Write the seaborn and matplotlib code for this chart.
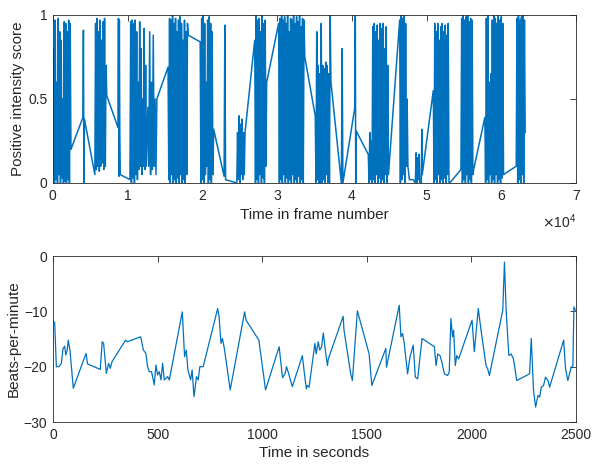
import numpy as np
import pandas as pd
import matplotlib
matplotlib.use("Agg")
import matplotlib.pyplot as plt
import seaborn as sns

# ---------------- data: top panel (positive intensity score per frame) ----------------
# each segment: first frame, frame step, and the scores
seg_start = [0, 4000, 5600, 8700, 10300, 12700, 15400, 19700, 22900, 24600, 27000,
             30200, 35100, 38600, 40400, 42200, 46400, 47700, 48500, 49300, 50900,
             54600, 57800, 62000]
seg_step = [100, 70, 100, 60, 100, 120, 100, 100, 100, 100, 100,
            100, 100, 100, 60, 100, 100, 500, 100, 60, 100,
            100, 100, 100]
seg_a = [0.05, 0.8, 0.0, 0.97, 0.02, 0.6, 0.0, 0.98, 0.05, 0.9, 0.0, 0.85, 0.03, 0.5,
         0.0, 0.96, 0.01, 0.95, 0.0, 0.9, 0.02, 0.97, 0.0, 0.95, 0.2]
seg_s1 = [0.39, 0.91, 0.0, 0.38]
seg_b = [0.05, 0.95, 0.08, 0.98, 0.1, 0.9, 0.07, 0.97, 0.1, 0.85, 0.12, 0.96, 0.08,
         0.98, 0.1, 0.7, 0.52]
seg_s2 = [0.33, 0.98, 0.04, 0.97, 0.3, 0.05]
seg_c = [0.02, 0.96, 0.0, 0.97, 0.03, 0.95, 0.0, 0.97, 0.05, 0.9, 0.02, 0.6, 0.08,
         0.96, 0.1, 0.8, 0.05, 0.5, 0.1, 0.92, 0.08, 0.7, 0.1]
seg_c2 = [0.45, 0.1, 0.9, 0.05, 0.6, 0.08, 0.88, 0.1, 0.5, 0.05, 0.5]
seg_d = [0.69, 0.02, 0.98, 0.0, 0.97, 0.05, 1.0, 0.0, 0.95, 0.02, 0.98, 0.0, 0.9, 0.03,
         0.97, 0.0, 0.99, 0.05, 0.95, 0.0, 0.85, 0.02, 0.97, 0.0, 0.9, 0.05, 0.95, 0.88]
seg_e = [0.84, 0.0, 0.98, 0.02, 1.0, 0.0, 0.95, 0.05, 0.6, 0.1, 0.97, 0.0, 0.99, 0.02,
         0.95, 0.0, 0.9, 0.05, 0.32]
seg_s3 = [0.04, 0.94, 0.02]
seg_f = [0.0, 0.3, 0.02, 0.4, 0.0, 0.35, 0.05, 0.38, 0.02, 0.3, 0.05, 0.3]
seg_g = [0.85, 0.0, 1.0, 0.02, 0.97, 0.0, 0.98, 0.05, 0.9, 0.0, 1.0, 0.03, 0.95, 0.0,
         0.97, 0.1, 0.6]
seg_h = [0.95, 0.0, 0.98, 0.02, 1.0, 0.0, 0.97, 0.05, 0.99, 0.0, 0.95, 0.03, 1.0, 0.0,
         0.9, 0.02, 0.98, 0.0, 0.97, 0.05, 1.0, 0.0, 0.95, 0.02, 0.99, 0.0, 0.96, 0.04,
         1.0, 0.0, 0.93, 0.02, 0.98, 0.0, 0.97, 0.75]
seg_i = [0.4, 0.0, 0.9, 0.02, 0.7, 0.0, 0.65, 0.0, 0.95, 0.0, 0.7, 0.02, 0.68, 0.0,
         0.72, 0.05, 0.7, 0.0, 0.65, 0.0, 1.0, 0.6]
seg_s4 = [0.0, 0.8, 0.0]
seg_s5 = [0.45, 1.0, 0.0, 0.31]
seg_j = [0.17, 0.0, 0.3, 0.02, 0.25, 0.0, 0.93, 0.02, 0.95, 0.0, 0.9, 0.05, 0.94, 0.0,
         0.85, 0.03, 0.95, 0.0, 0.92, 0.02, 0.95, 0.0, 0.8, 0.05, 0.93, 0.0, 0.7, 0.05]
seg_k = [0.97, 0.0, 1.0, 0.02, 0.98, 0.05, 1.0, 0.0, 0.95, 0.1, 0.5, 0.1]
seg_flat = [0.02, 0.02]
seg_l = [0.0, 0.18, 0.0, 0.15, 0.02, 0.17, 0.0]
seg_s6 = [0.0, 0.32, 0.05]
seg_m = [0.55, 0.0, 0.95, 0.02, 0.9, 0.0, 0.95, 0.05, 0.85, 0.0, 0.93, 0.02, 0.95, 0.0,
         0.9, 0.03, 0.94, 0.0, 0.88, 0.05, 0.95, 0.0, 0.0]
seg_n = [0.08, 0.98, 0.0, 1.0, 0.02, 0.97, 0.0, 0.99, 0.05, 1.0, 0.0, 0.96, 0.02, 0.98,
         0.0, 0.97, 0.05, 0.08]
seg_o = [0.39, 0.0, 0.98, 0.02, 1.0, 0.0, 0.6, 0.05, 0.65, 0.0, 0.97, 0.02, 1.0, 0.0,
         0.98, 0.05, 0.95, 0.0, 1.0, 0.02, 0.97, 0.0, 0.99, 0.03, 0.95, 0.05]
seg_p = [0.1, 0.98, 0.0, 1.0, 0.02, 0.97, 0.0, 0.99, 0.05, 1.0, 0.0, 0.97, 0.3]
seg_values = [seg_a, seg_s1, seg_b, seg_s2, seg_c, seg_c2, seg_d, seg_e, seg_s3, seg_f,
              seg_g, seg_h, seg_i, seg_s4, seg_s5, seg_j, seg_k, seg_flat, seg_l,
              seg_s6, seg_m, seg_n, seg_o, seg_p]

# ---------------- data: bottom panel (beats per minute over time) ----------------
seconds = [0, 8, 16, 29, 40, 48, 56, 61, 68, 73, 81, 97, 158, 165, 226, 235, 242, 255,
           266, 274, 282, 347, 355, 419, 432, 444, 452, 460, 471, 484, 492, 500, 508,
           516, 524, 532, 548, 556, 618, 629, 637, 645, 658, 665, 674, 686, 694, 702,
           718, 787, 794, 803, 810, 819, 847, 916, 923, 984, 1016, 1081, 1097, 1110,
           1116, 1126, 1144, 1192, 1200, 1211, 1216, 1224, 1252, 1258, 1268, 1275,
           1284, 1292, 1304, 1312, 1316, 1387, 1391, 1423, 1431, 1455, 1511, 1524,
           1591, 1594, 1607, 1655, 1663, 1671, 1679, 1695, 1706, 1722, 1732, 1743,
           1764, 1823, 1831, 1839, 1850, 1859, 1871, 1886, 1894, 1902, 1910, 1915,
           1923, 1930, 1939, 2003, 2014, 2033, 2046, 2070, 2078, 2086, 2150, 2158,
           2166, 2179, 2190, 2201, 2217, 2278, 2286, 2297, 2307, 2318, 2326, 2334,
           2345, 2354, 2366, 2374, 2441, 2450, 2461, 2477, 2485, 2490, 2497]
bpm = [-11.9, -12, -20, -20, -19.4, -16.7, -16.3, -17.9, -17, -15.2, -17, -23.9, -17.6,
       -19.5, -20.5, -15.5, -15.8, -21.2, -19.4, -20.3, -19.1, -15.2, -15.5, -14.6, -17,
       -17.6, -20, -20.9, -20.9, -23.3, -19.7, -21.5, -20.9, -22.4, -19.4, -22.4, -21.8,
       -22.4, -10.1, -18.2, -17, -20.6, -22.4, -20.6, -25.4, -21.8, -22.4, -20, -20,
       -9.5, -11, -15.8, -14.9, -16.7, -24.2, -10.1, -11.6, -15.2, -24.2, -16.4, -22,
       -21.2, -20, -21.2, -23.6, -18, -20.7, -24, -23.4, -23.7, -15.8, -17.7, -15.5,
       -17, -16.4, -13.9, -17.7, -19.8, -18.6, -10.9, -13.4, -21.3, -22.5, -9.9, -17.7,
       -23.4, -16.7, -20.1, -17.7, -8.9, -14.6, -14, -15.8, -21.3, -18.3, -16.1, -21.9,
       -22.2, -14.9, -16.4, -19.8, -17.7, -18, -19.2, -21.3, -21.6, -21, -11.3, -14.6,
       -13.4, -19.8, -18, -18.6, -11.6, -17.3, -9.5, -13.4, -19.8, -20.4, -21.6, -9.8,
       -1.1, -9.8, -18, -17.7, -18.6, -22.5, -21.3, -14.9, -24.3, -27.3, -25.2, -25.5,
       -23.7, -23.4, -21.9, -22.5, -23.7, -15.2, -20.4, -22.5, -20.1, -19.9, -9.2, -9.8]

top_xticks = [0, 10000, 20000, 30000, 40000, 50000, 60000, 70000]
top_yticks = [0, 0.5, 1]
top_yticklabels = ["0", "0.5", "1"]
bot_xticks = [0, 500, 1000, 1500, 2000, 2500]
bot_yticks = [-30, -20, -10, 0]

# ---------------- build frames ----------------
frames, scores = [], []
for s, st, vals in zip(seg_start, seg_step, seg_values):
    frames.extend(range(s, s + st * len(vals), st))
    scores.extend(vals)
top_df = pd.DataFrame({"frame": frames, "score": scores})
bot_df = pd.DataFrame({"sec": seconds, "bpm": bpm})

# ---------------- style ----------------
sns.set_theme(style="white")
plt.rcParams["font.family"] = ["Liberation Sans", "DejaVu Sans"]
ink = "#262626"
blue = "#0072BD"

fig = plt.figure(figsize=(5.93, 4.68), dpi=100)
W, H = 593, 468
ax1 = fig.add_axes([53 / W, 1 - 183 / H, 523 / W, 168 / H])
ax2 = fig.add_axes([53 / W, 1 - 422 / H, 523 / W, 166 / H])

sns.lineplot(data=top_df, x="frame", y="score", ax=ax1, estimator=None, sort=False,
             color=blue, linewidth=1.1)
sns.lineplot(data=bot_df, x="sec", y="bpm", ax=ax2, estimator=None, sort=False,
             color=blue, linewidth=0.9)

ax1.set_xlim(0, 70000)
ax1.set_ylim(0, 1)
ax1.set_xticks(top_xticks)
ax1.set_yticks(top_yticks)
ax1.set_yticklabels(top_yticklabels)
ax1.ticklabel_format(axis="x", style="sci", scilimits=(0, 0), useMathText=True)
ax1.set_xlabel("Time in frame number", fontsize=11, color=ink, labelpad=4)
ax1.set_ylabel("Positive intensity score", fontsize=11, color=ink, labelpad=2)

ax2.set_xlim(0, 2500)
ax2.set_ylim(-30, 0)
ax2.set_xticks(bot_xticks)
ax2.set_yticks(bot_yticks)
ax2.set_xlabel("Time in seconds", fontsize=11, color=ink, labelpad=3)
ax2.set_ylabel("Beats-per-minute", fontsize=11, color=ink, labelpad=2)

for ax in (ax1, ax2):
    ax.grid(False)
    for sp in ax.spines.values():
        sp.set_visible(True)
        sp.set_color(ink)
        sp.set_linewidth(0.6)
    ax.tick_params(direction="in", top=True, right=True, length=4, width=0.6,
                   colors=ink, labelsize=10, pad=4)
ax1.xaxis.OFFSETTEXTPAD = 7
ax1.xaxis.get_offset_text().set_fontsize(10)
ax1.xaxis.get_offset_text().set_color(ink)

fig.savefig("out.png", dpi=100, facecolor="white")
